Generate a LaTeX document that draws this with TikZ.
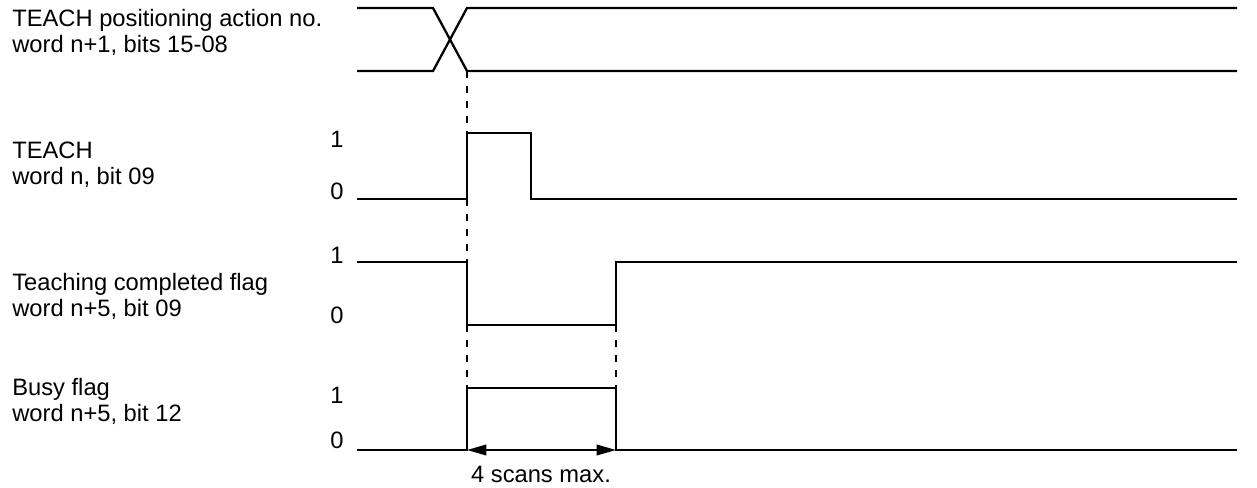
\documentclass[tikz,border=0pt]{standalone}
\usepackage{fontspec}
\setmainfont{Liberation Sans}
\usetikzlibrary{arrows.meta,positioning}
\tikzset{
    signal/.style={line width=1.3pt},
    guide/.style={line width=1.3pt,dash pattern=on 4pt off 4.5pt},
    sig label/.style={anchor=base west,inner sep=0pt,
        font=\fontsize{13.5}{16}\selectfont},
    level/.style={anchor=base,inner sep=0pt,
        font=\fontsize{13.5}{16}\selectfont},
    >={Triangle[length=11pt,width=6pt]}
}

\begin{document}
\begin{tikzpicture}[x=0.02cm,y=-0.02cm]
\useasboundingbox (0,0) rectangle (1257,487);
% signal names
\foreach \i/\y/\first/\second in {
    action/26/TEACH positioning action no./{word n+1, bits 15-08},
    teach/158/TEACH/{word n, bit 09},
    done/290/Teaching completed flag/{word n+5, bit 09},
    busy/395/Busy flag/{word n+5, bit 12}}
{
    \node[sig label] (\i_a) at (12,\y) {\first};
    \node[sig label] (\i_b) at (12,\y+26) {\second};
}
% levels
\foreach \i/\hi/\lo in {teach/147/199,done/263/323,busy/403/448}
{
    \node[level] (\i_one) at (337,\hi) {1};
    \node[level] (\i_zero) at (337,\lo) {0};
}
% action no.
\draw[signal] (357,8) -- (433,8) -- (467,71) coordinate (act_x) -- (1237,71);
\draw[signal] (357,71) -- (433,71) -- (467,8) -- (1237,8);
% TEACH
\draw[signal] (357,199) -- (467,199) coordinate (teach_lo)
    -- (467,133) coordinate (teach_up) -- (531,133) -- (531,199) -- (1237,199);
% teaching completed flag
\draw[signal] (357,262) -- (467,262) coordinate (done_hi)
    -- (467,325) coordinate (done_dn) -- (616,325) coordinate (done_lo)
    -- (616,262) -- (1237,262);
% busy flag
\draw[signal] (357,450) -- (467,450) coordinate (busy_lo)
    -- (467,388) coordinate (busy_up) -- (616,388) coordinate (busy_hi)
    -- (616,450) coordinate (busy_dn) -- (1237,450);
% guides
\draw[guide] (act_x) -- (teach_up);
\draw[guide] (teach_lo) -- (done_hi);
\draw[guide] (done_dn) -- (busy_up);
\draw[guide] (done_lo) -- (busy_hi);
\draw[<->,line width=1.1pt] (busy_lo) -- (busy_dn);
\node[level] (scans) at (541,482) {4 scans max.};
\end{tikzpicture}
\end{document}
